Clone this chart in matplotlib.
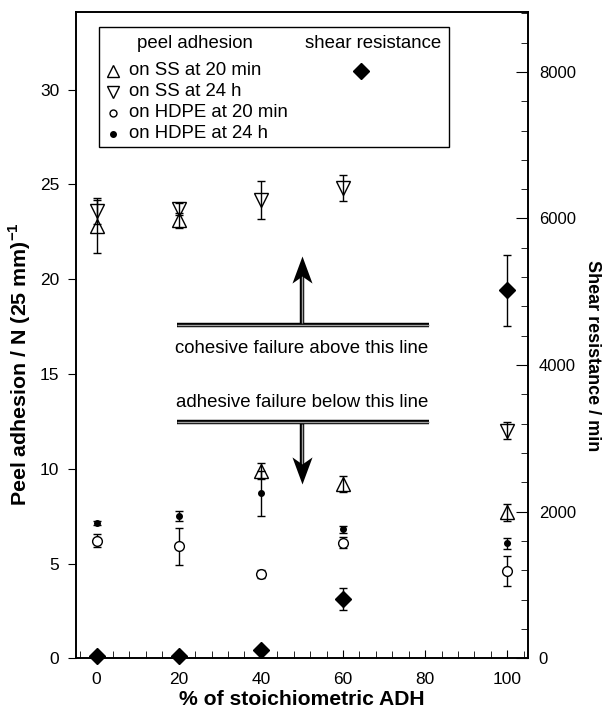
import matplotlib
matplotlib.use('Agg')
import matplotlib.pyplot as plt
from matplotlib.path import Path
from matplotlib.ticker import MultipleLocator

plt.rcParams['font.family'] = ['Liberation Sans', 'DejaVu Sans']
plt.rcParams['mathtext.fontset'] = 'custom'
plt.rcParams['mathtext.rm'] = 'Liberation Sans'
plt.rcParams['mathtext.bf'] = 'Liberation Sans:bold'

# data
adh = [0, 20, 40, 60, 100]
ss_20min = [22.8, 23.1, 9.9, 9.2, 7.7]
ss_20min_err = [1.4, 0.4, 0.42, 0.4, 0.45]
ss_24h = [23.6, 23.7, 24.2, 24.8, 12.0]
ss_24h_err = [0.7, 0.3, 1.0, 0.7, 0.45]
hdpe_20min = [6.2, 5.9, 4.46, 6.1, 4.6]
hdpe_20min_err = [0.35, 1.0, 0.2, 0.3, 0.8]
hdpe_24h = [7.13, 7.5, 8.7, 6.8, 6.06]
hdpe_24h_err = [0.1, 0.26, 1.17, 0.2, 0.3]
shear = [30, 30, 120, 810, 5020]
shear_err = [0, 0, 0, 150, 480]

# failure-mode boundaries (peel adhesion units)
cohesive_line = 17.6
adhesive_line = 12.45
line_x = [19.5, 81]
arrow_x = 50
arrow_up_tip = 21.2
arrow_down_tip = 9.2

fig = plt.figure(figsize=(6.08, 7.13), dpi=100)
ax = fig.add_axes([0.125, 0.0767, 0.743, 0.9063])
ax2 = ax.twinx()

eb = dict(color='black', ecolor='black', elinewidth=1, capsize=3, capthick=1, linestyle='none')
ax.errorbar(adh, hdpe_20min, yerr=hdpe_20min_err, marker='o', ms=7, mfc='white', mec='black', mew=1, **eb)
ax.errorbar(adh, hdpe_24h, yerr=hdpe_24h_err, marker='o', ms=4, mfc='black', mec='black', **eb)
ax.errorbar(adh, ss_20min, yerr=ss_20min_err, marker='^', ms=10, mfc='none', mec='black', mew=1, **eb)
ax.errorbar(adh, ss_24h, yerr=ss_24h_err, marker='v', ms=10, mfc='none', mec='black', mew=1, **eb)
ax2.errorbar(adh, shear, yerr=shear_err, marker='D', ms=8, mfc='black', mec='black', clip_on=False, **eb)

# double lines with arrows
def double_line(xs, ys):
    ax.plot(xs, ys, color='black', lw=3.2, solid_capstyle='butt', zorder=3)
    ax.plot(xs, ys, color='#a0a0a0', lw=1.0, solid_capstyle='butt', zorder=4)

head = Path([(0, 0), (-10, -27), (0, -20), (10, -27), (0, 0)],
            [Path.MOVETO, Path.LINETO, Path.LINETO, Path.LINETO, Path.CLOSEPOLY])
head_down = Path([(0, 0), (-10, 27), (0, 20), (10, 27), (0, 0)],
                 [Path.MOVETO, Path.LINETO, Path.LINETO, Path.LINETO, Path.CLOSEPOLY])

double_line(line_x, [cohesive_line, cohesive_line])
double_line([arrow_x, arrow_x], [cohesive_line + 0.1, arrow_up_tip - 0.8])
ax.plot([arrow_x], [arrow_up_tip], marker=head, ms=39, color='black', mew=0, zorder=5)

double_line(line_x, [adhesive_line, adhesive_line])
double_line([arrow_x, arrow_x], [adhesive_line - 0.1, arrow_down_tip + 0.8])
ax.plot([arrow_x], [arrow_down_tip], marker=head_down, ms=39, color='black', mew=0, zorder=5)

fs = 13.4
ax.text(arrow_x, 16.35, 'cohesive failure above this line', ha='center', va='center', fontsize=fs)
ax.text(arrow_x, 13.48, 'adhesive failure below this line', ha='center', va='center', fontsize=fs)

# hand-made legend box
ax.add_patch(plt.Rectangle((0.0516, 0.791), 0.7744, 0.186, transform=ax.transAxes,
                           fill=False, ec='black', lw=1, zorder=6))
ax.text(0.263, 0.9516, 'peel adhesion', transform=ax.transAxes, ha='center', va='center', fontsize=fs)
ax.text(0.657, 0.9516, 'shear resistance', transform=ax.transAxes, ha='center', va='center', fontsize=fs)
legend_rows = [('^', 'on SS at 20 min', 'none', 8),
               ('v', 'on SS at 24 h', 'none', 8),
               ('o', 'on HDPE at 20 min', 'white', 5),
               ('o', 'on HDPE at 24 h', 'black', 4)]
for i, (m, label, fc, size) in enumerate(legend_rows):
    yy = 0.909 - i * 0.0325
    ax.plot([0.082], [yy], marker=m, ms=size, mfc=fc, mec='black', mew=1,
            transform=ax.transAxes, clip_on=False)
    ax.text(0.117, yy, label, transform=ax.transAxes, ha='left', va='center', fontsize=fs)
ax.plot([0.631], [0.909], marker='D', ms=8, color='black', transform=ax.transAxes)

# axes
ax.set_xlim(-5, 105)
ax.set_ylim(0, 34.09)
ax2.set_ylim(0, 8815)
ax.xaxis.set_major_locator(MultipleLocator(20))
ax.xaxis.set_minor_locator(MultipleLocator(4))
ax.yaxis.set_major_locator(MultipleLocator(5))
ax2.yaxis.set_major_locator(MultipleLocator(2000))
ax2.yaxis.set_minor_locator(MultipleLocator(400))

ax.tick_params(axis='x', which='major', direction='in', length=6, labelsize=12.5, top=False, pad=10)
ax.tick_params(axis='x', which='minor', direction='in', length=5, top=False)
ax.tick_params(axis='y', which='major', direction='out', length=6, labelsize=12.5, right=False, pad=6)
ax2.tick_params(axis='y', which='major', direction='in', length=9, labelsize=12, pad=8)
ax2.tick_params(axis='y', which='minor', direction='in', length=5)

for a in (ax, ax2):
    for s in a.spines.values():
        s.set_linewidth(1.2)

ax.set_xlabel('% of stoichiometric ADH', fontsize=15.2, fontweight='bold', labelpad=2)
ax.set_ylabel('Peel adhesion / N (25 mm)$^{\\mathbf{-1}}$', fontsize=15.4, fontweight='bold', labelpad=5)
ax2.set_ylabel('Shear resistance / min', fontsize=13, fontweight='bold', rotation=270, labelpad=18)
ax.yaxis.label.set_y(0.455)
ax2.yaxis.label.set_y(0.468)

fig.savefig('out.png', dpi=100)
